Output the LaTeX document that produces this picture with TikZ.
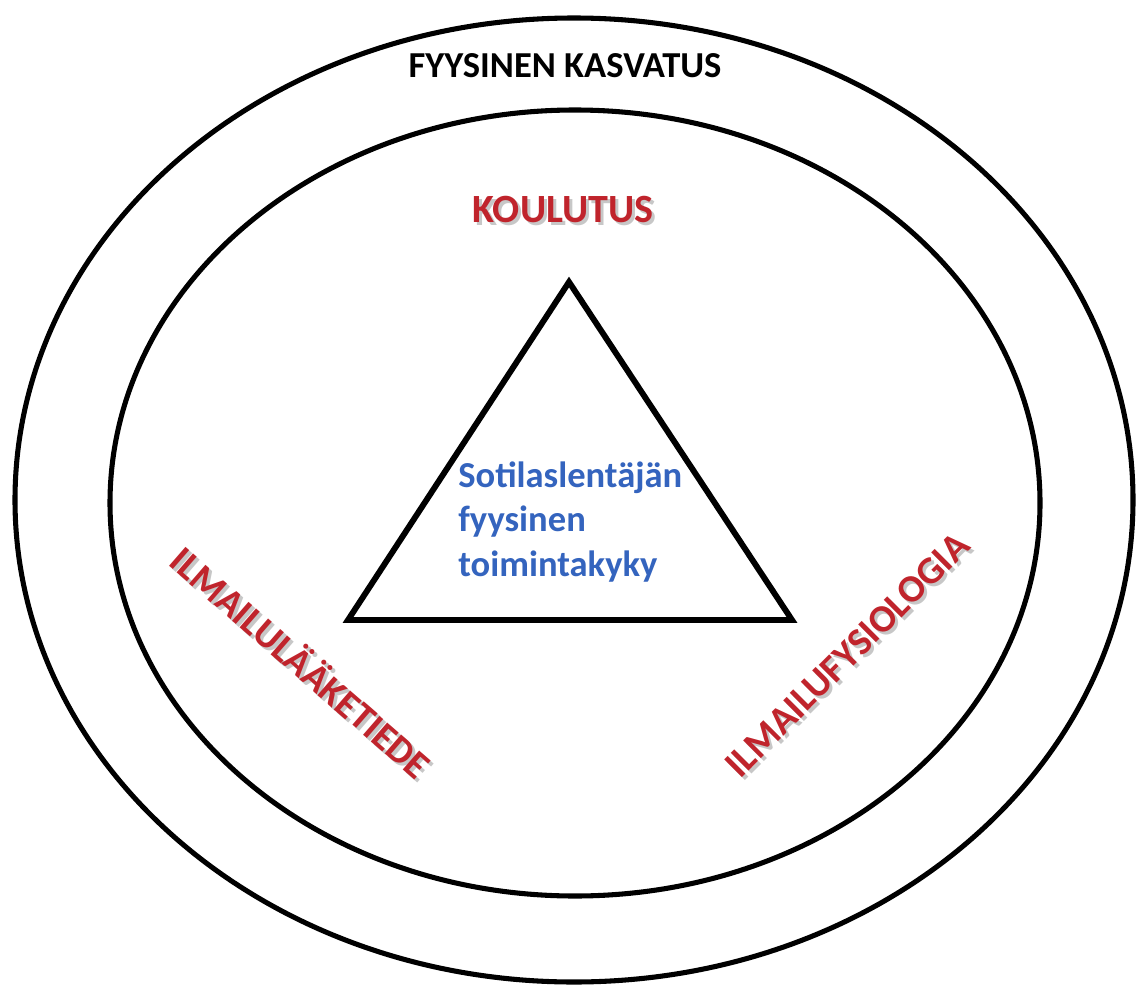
\documentclass[tikz,border=0pt]{standalone}
\usepackage{fontspec}
\setmainfont{Carlito}
\definecolor{artred}{RGB}{192,36,44}
\definecolor{artblue}{RGB}{52,100,190}

\begin{document}
\begin{tikzpicture}[x=0.025cm,y=-0.025cm,
	ring/.style={line width=3.6pt},
	artword/.style={inner sep=0pt, text=artred, font=\bfseries\fontsize{27.5}{27.5}\selectfont},
	artshade/.style={artword, text=black!22}]
	\useasboundingbox (0,0) rectangle (1136,985);
	\draw[ring] (574,500) ellipse (559 and 482);
	\draw[ring] (575,503) ellipse (465 and 393);
	\coordinate (apex) at (569,282);
	\coordinate (left) at (348,620);
	\coordinate (right) at (792,620);
	\draw[line width=4.2pt, line join=miter] (apex) -- (left) -- (right) -- cycle;
	\node[inner sep=0pt, font=\bfseries\fontsize{26}{26}\selectfont] (kasvatus) at (565,66) {FYYSINEN KASVATUS};
	\node[artshade, font=\bfseries\fontsize{28.5}{28.5}\selectfont] (koulutus-sh) at (566,213) {KOULUTUS};
	\node[artword, font=\bfseries\fontsize{28.5}{28.5}\selectfont] (koulutus) at (563,210) {KOULUTUS};
	\node[artshade, rotate=-41] (laaketiede-sh) at (305,664) {ILMAILULÄÄKETIEDE};
	\node[artword, rotate=-41] (laaketiede) at (302,661) {ILMAILULÄÄKETIEDE};
	\node[artshade, rotate=45] (fysiologia-sh) at (850,658) {ILMAILUFYSIOLOGIA};
	\node[artword, rotate=45] (fysiologia) at (847,655) {ILMAILUFYSIOLOGIA};
	\node[inner sep=0pt, anchor=base west, align=left, text=artblue, font=\bfseries\fontsize{26}{31.5}\selectfont] (kyky) at (458,576) {Sotilaslentäjän\\fyysinen\\toimintakyky};
\end{tikzpicture}
\end{document}
